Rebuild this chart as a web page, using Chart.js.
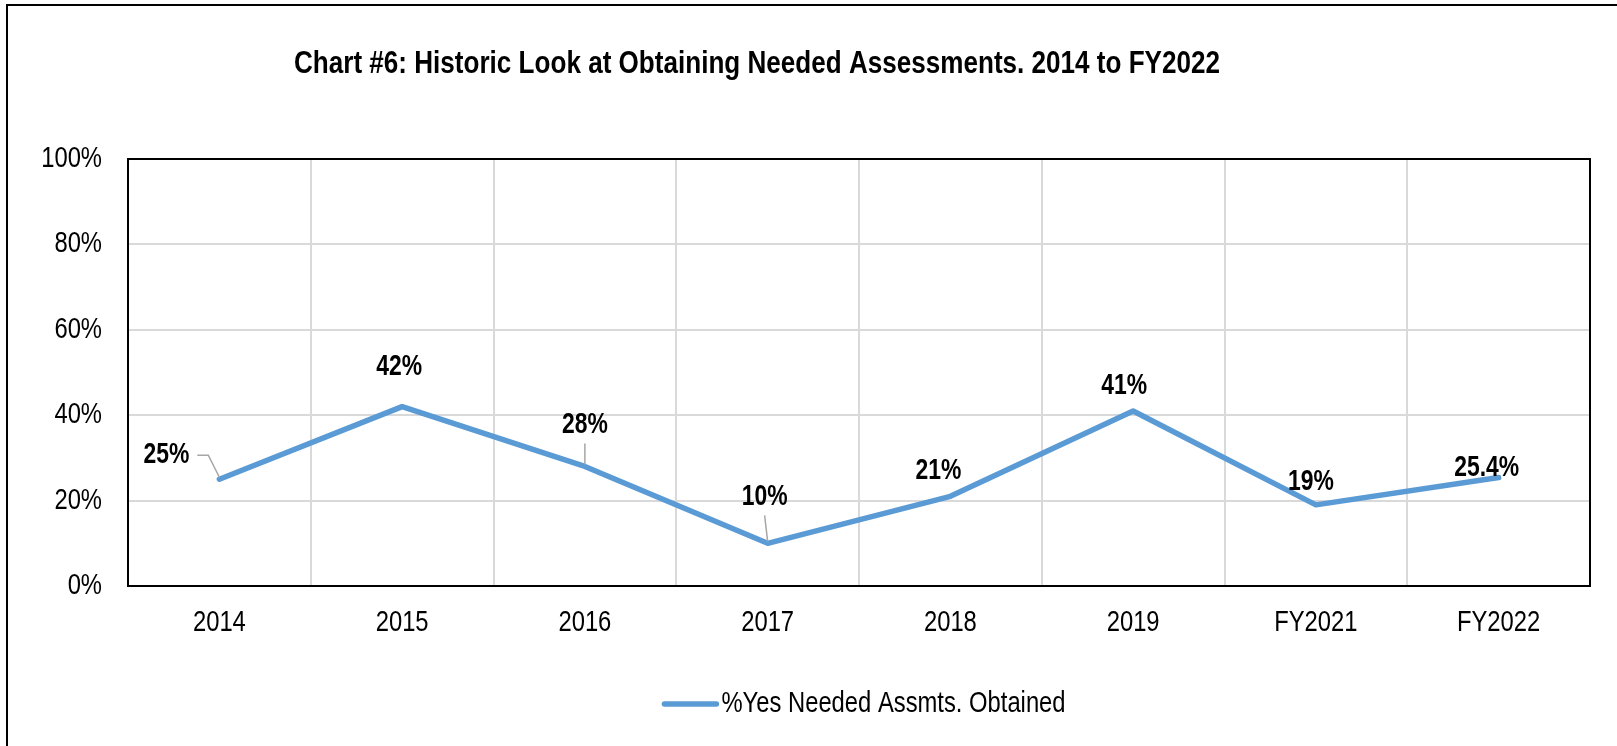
<!DOCTYPE html>
<html>
<head>
<meta charset="utf-8">
<script src="https://cdn.jsdelivr.net/npm/chart.js"></script>
<style>
  html, body { margin: 0; padding: 0; background: #fff; }
  #wrap { width: 1617px; height: 746px; position: relative; }
</style>
</head>
<body>
<div id="wrap"><canvas id="chart6"></canvas></div>
<script>
// data
const years = ['2014', '2015', '2016', '2017', '2018', '2019', 'FY2021', 'FY2022'];
const pctObtained = [25, 42, 28, 10, 21, 41, 19, 25.4];
const pointLabels = ['25%', '42%', '28%', '10%', '21%', '41%', '19%', '25.4%'];
const yTicks = [0, 20, 40, 60, 80, 100];

const titleText = 'Chart #6: Historic Look at Obtaining Needed Assessments. 2014 to FY2022';
const seriesName = '%Yes Needed Assmts. Obtained';

// no narrow font installed, so text is squeezed sideways to look like Arial Narrow
const FONT = '"Liberation Sans", Arial, sans-serif';
const NARROW = 0.82;
const lineBlue = '#5B9BD5';

// label placement, like the hand-moved labels in the original (offset from the point, px)
const labelShift = [
    { dx: -53, dy: -24, leader: 'side' },
    { dx: -3, dy: -40 },
    { dx: 0, dy: -41, leader: 'down' },
    { dx: -3, dy: -46, leader: 'down' },
    { dx: -12, dy: -25 },
    { dx: -9, dy: -25 },
    { dx: -5, dy: -23 },
    { dx: -12, dy: -10 }
];

function narrowText(ctx, text, x, y, align, sx) {
    ctx.save();
    ctx.translate(x, y);
    ctx.scale(sx, 1);
    ctx.textAlign = align;
    ctx.textBaseline = 'middle';
    ctx.fillText(text, 0, 0);
    ctx.restore();
}

// start: plugins
const frameAndTitle = {
    id: 'frameAndTitle',
    beforeDraw(chart) {
        const ctx = chart.ctx;
        ctx.save();
        ctx.fillStyle = '#fff';
        ctx.fillRect(0, 0, chart.width, chart.height);
        // outer frame (only top and left show in the original)
        ctx.strokeStyle = '#000';
        ctx.lineWidth = 2;
        ctx.beginPath();
        ctx.moveTo(7, chart.height);
        ctx.lineTo(7, 5);
        ctx.lineTo(chart.width, 5);
        ctx.stroke();
        // title, squeezed to the width it has in the original
        ctx.fillStyle = '#000';
        ctx.font = 'bold 31px ' + FONT;
        const tw = ctx.measureText(titleText).width;
        narrowText(ctx, titleText, 757, 64, 'center', 926 / tw);
        ctx.restore();
    },
    afterDatasetsDraw(chart) {
        const a = chart.chartArea;
        const ctx = chart.ctx;
        ctx.save();
        ctx.strokeStyle = '#000';
        ctx.lineWidth = 2;
        ctx.strokeRect(a.left, a.top, a.right - a.left, a.bottom - a.top);
        ctx.restore();
    }
};

const axisText = {
    id: 'axisText',
    afterDraw(chart) {
        const ctx = chart.ctx;
        const a = chart.chartArea;
        const xs = chart.scales.x;
        const ys = chart.scales.y;
        ctx.save();
        ctx.fillStyle = '#000';
        ctx.font = '29px ' + FONT;
        ys.ticks.forEach(function (t) {
            narrowText(ctx, t.value + '%', a.left - 26, ys.getPixelForValue(t.value), 'right', NARROW);
        });
        years.forEach(function (lab, i) {
            narrowText(ctx, lab, xs.getPixelForValue(i), a.bottom + 37, 'center', NARROW);
        });
        // legend
        const lx = (a.left + a.right) / 2 + 5;
        const textW = ctx.measureText(seriesName).width * NARROW;
        const total = 56 + 3 + textW;
        const x0 = lx - total / 2;
        ctx.strokeStyle = lineBlue;
        ctx.lineWidth = 5.5;
        ctx.lineCap = 'round';
        ctx.beginPath();
        ctx.moveTo(x0 + 2, 704);
        ctx.lineTo(x0 + 54, 704);
        ctx.stroke();
        narrowText(ctx, seriesName, x0 + 59, 704, 'left', NARROW);
        ctx.restore();
    }
};

const valueLabels = {
    id: 'valueLabels',
    afterDatasetsDraw(chart) {
        const ctx = chart.ctx;
        const pts = chart.getDatasetMeta(0).data;
        ctx.save();
        ctx.font = 'bold 29px ' + FONT;
        pts.forEach(function (p, i) {
            const s = labelShift[i];
            const lx = p.x + s.dx;
            const ly = p.y + s.dy;
            if (s.leader) {
                ctx.strokeStyle = '#A6A6A6';
                ctx.lineWidth = 1.5;
                ctx.beginPath();
                if (s.leader === 'side') {
                    const w = ctx.measureText(pointLabels[i]).width * 0.79;
                    ctx.moveTo(lx + w / 2 + 8, ly);
                    ctx.lineTo(lx + w / 2 + 19, ly);
                    ctx.lineTo(p.x, p.y - 2);
                } else {
                    ctx.moveTo(lx, ly + 18);
                    ctx.lineTo(p.x, p.y - 2);
                }
                ctx.stroke();
            }
            ctx.fillStyle = '#000';
            narrowText(ctx, pointLabels[i], lx, ly, 'center', 0.79);
        });
        ctx.restore();
    }
};
// end: plugins

new Chart(document.getElementById('chart6'), {
    type: 'line',
    data: {
        labels: years,
        datasets: [{
            label: seriesName,
            data: pctObtained,
            borderColor: lineBlue,
            backgroundColor: lineBlue,
            borderWidth: 5.5,
            borderCapStyle: 'round',
            borderJoinStyle: 'round',
            pointRadius: 0,
            pointHoverRadius: 0,
            tension: 0
        }]
    },
    options: {
        responsive: true,
        maintainAspectRatio: false,
        animation: false,
        layout: {
            padding: { top: 159, left: 8, right: 27, bottom: 66 }
        },
        scales: {
            x: {
                offset: true,
                grid: { offset: true, color: '#D9D9D9', lineWidth: 2, drawTicks: false },
                border: { display: false },
                ticks: { display: false },
                afterFit: function (scale) { scale.height = 94; }
            },
            y: {
                min: 0,
                max: 100,
                afterBuildTicks: function (scale) {
                    scale.ticks = yTicks.map(function (v) { return { value: v }; });
                },
                grid: { color: '#D9D9D9', lineWidth: 2, drawTicks: false },
                border: { display: false },
                ticks: { display: false },
                afterFit: function (scale) { scale.width = 120; }
            }
        },
        plugins: {
            title: { display: false },
            tooltip: { enabled: false },
            legend: { display: false }
        }
    },
    plugins: [frameAndTitle, axisText, valueLabels]
});
</script>
</body>
</html>
